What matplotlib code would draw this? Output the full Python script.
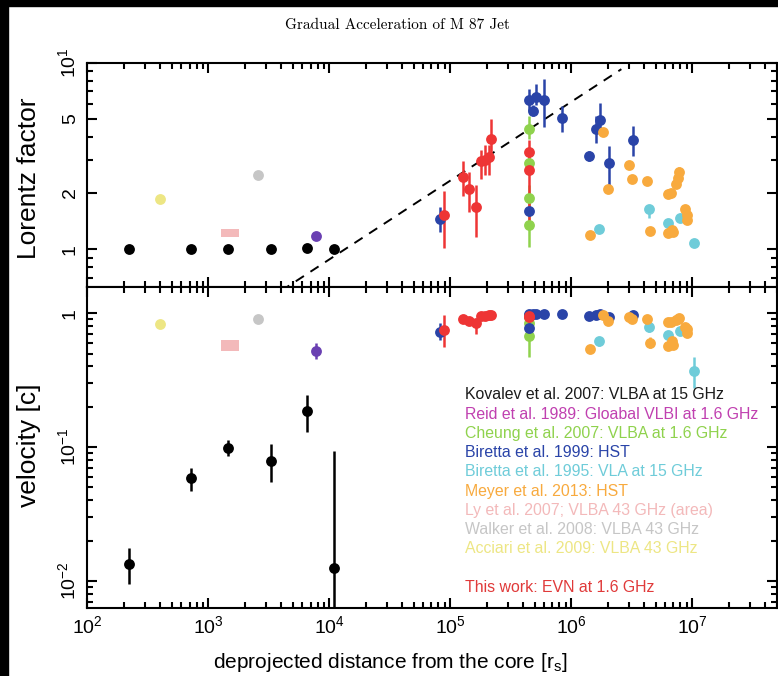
import numpy as np
import matplotlib
matplotlib.use("Agg")
import matplotlib.pyplot as plt
from matplotlib.ticker import FixedLocator, FixedFormatter, LogLocator, NullFormatter
from matplotlib.patches import Rectangle

plt.rcParams['font.family'] = ['Liberation Sans', 'DejaVu Sans']
plt.rcParams['mathtext.fontset'] = 'custom'
plt.rcParams['mathtext.rm'] = 'Liberation Sans'
plt.rcParams['mathtext.it'] = 'Liberation Sans:italic'

# ---- data ----
# Kovalev et al. 2007 (black)
kov_z = [222, 724, 1455, 3270, 6610, 10860]
kov_gamma = [1.0, 1.0, 1.0, 1.0, 1.02, 1.0]
kov_beta = [0.0135, 0.0583, 0.0993, 0.0794, 0.187, 0.0125]
kov_beta_lo = [0.0095, 0.0472, 0.0851, 0.0544, 0.129, 0.001]
kov_beta_hi = [0.0177, 0.0704, 0.113, 0.105, 0.243, 0.0938]

# Reid et al. 1989 (purple)
reid_z = [7710]
reid_gamma = [1.18]
reid_beta = [0.526]
reid_beta_lo = [0.454]
reid_beta_hi = [0.60]

# Walker et al. 2008 (grey)
walker_z = [2590]
walker_gamma = [2.50]
walker_beta = [0.907]

# Acciari et al. 2009 (yellow)
acc_z = [396]
acc_gamma = [1.85]
acc_beta = [0.836]

# Ly et al. 2007 (area)
ly_z = [1280, 1800]
ly_gamma = [1.155, 1.285]
ly_beta = [0.523, 0.632]

# Cheung et al. 2007 (green)
ch_z = [447000, 447000, 447000, 447000]
ch_gamma = [4.42, 2.89, 1.88, 1.35]
ch_gamma_lo = [3.9, 2.5, 1.6, 1.03]
ch_gamma_hi = [5.15, 3.3, 2.2, 1.9]
ch_beta = [0.974, 0.938, 0.847, 0.672]
ch_beta_lo = [0.97, 0.92, 0.80, 0.47]
ch_beta_hi = [0.98, 0.95, 0.88, 0.80]

# Biretta et al. 1999 HST (blue)
b99_z = [81700, 447000, 452000, 488000, 510000, 598000, 832000, 1.415e6, 1.6e6, 1.74e6, 2.06e6, 3.27e6]
b99_gamma = [1.455, 1.61, 6.28, 5.52, 6.54, 6.33, 5.05, 3.14, 4.42, 4.94, 2.89, 3.86]
b99_gamma_lo = [1.24, 1.55, 5.48, 5.2, 5.95, 4.52, 4.23, 2.95, 3.71, 4.28, 2.08, 3.14]
b99_gamma_hi = [1.69, 1.68, 7.17, 5.9, 7.69, 8.18, 5.83, 3.35, 5.15, 6.08, 3.55, 4.55]
b99_beta = [0.73, 0.77, 0.987, 0.983, 0.988, 0.987, 0.98, 0.948, 0.974, 0.979, 0.938, 0.966]
b99_beta_lo = [0.63, 0.72, 0.98, 0.98, 0.985, 0.97, 0.97, 0.94, 0.96, 0.97, 0.87, 0.95]
b99_beta_hi = [0.84, 0.82, 0.99, 0.985, 0.99, 0.99, 0.985, 0.955, 0.98, 0.985, 0.96, 0.975]

# Biretta et al. 1995 VLA (cyan)
b95_z = [1.70e6, 4.36e6, 6.37e6, 7.96e6, 1.04e7]
b95_gamma = [1.285, 1.64, 1.38, 1.47, 1.08]
b95_gamma_lo = [1.24, 1.47, 1.38, 1.47, 1.08]
b95_gamma_hi = [1.33, 1.73, 1.38, 1.47, 1.08]
b95_beta = [0.62, 0.786, 0.69, 0.74, 0.373]
b95_beta_lo = [0.57, 0.72, 0.69, 0.74, 0.276]
b95_beta_hi = [0.67, 0.84, 0.69, 0.74, 0.47]

# Meyer et al. 2013 HST (orange)
mey_z = [1.42e6, 1.84e6, 2.03e6, 3.01e6, 3.16e6, 4.21e6, 4.49e6, 6.28e6, 6.65e6,
         7.37e6, 7.7e6, 7.86e6, 6.37e6, 6.79e6, 7.0e6, 8.75e6, 9.14e6, 9.14e6]
mey_gamma = [1.19, 4.26, 2.10, 2.82, 2.39, 2.33, 1.25, 1.97, 2.01,
             2.23, 2.41, 2.58, 1.22, 1.27, 1.23, 1.64, 1.53, 1.43]
mey_gamma_lo = [1.19, 4.26, 2.10, 2.68, 2.39, 2.28, 1.20, 1.97, 2.01,
                2.23, 2.41, 2.45, 1.22, 1.27, 1.23, 1.64, 1.53, 1.43]
mey_gamma_hi = [1.19, 4.26, 2.10, 2.97, 2.39, 2.38, 1.32, 1.97, 2.01,
                2.23, 2.41, 2.75, 1.22, 1.27, 1.23, 1.64, 1.53, 1.43]
mey_beta = [0.54, 0.972, 0.879, 0.935, 0.908, 0.903, 0.60, 0.862, 0.867,
            0.894, 0.91, 0.922, 0.573, 0.617, 0.582, 0.793, 0.757, 0.715]
mey_beta_lo = [0.54, 0.972, 0.879, 0.93, 0.908, 0.90, 0.55, 0.862, 0.867,
               0.894, 0.91, 0.915, 0.573, 0.617, 0.582, 0.793, 0.757, 0.715]
mey_beta_hi = [0.54, 0.972, 0.879, 0.94, 0.908, 0.906, 0.66, 0.862, 0.867,
               0.894, 0.91, 0.93, 0.573, 0.617, 0.582, 0.793, 0.757, 0.715]

# This work: EVN at 1.6 GHz (red)
evn_z = [88100, 127000, 144000, 162000, 179500, 194700, 207300, 218300, 452000, 447000]
evn_gamma = [1.53, 2.45, 2.10, 1.69, 2.95, 3.02, 3.12, 3.89, 3.30, 2.64]
evn_gamma_lo = [1.01, 1.92, 1.58, 1.16, 2.38, 2.50, 2.51, 3.08, 2.9, 1.32]
evn_gamma_hi = [2.04, 2.95, 2.58, 2.21, 3.41, 3.60, 3.63, 4.99, 3.86, 3.0]
evn_beta = [0.75, 0.90, 0.88, 0.84, 0.95, 0.96, 0.965, 0.97, 0.955, 0.93]
evn_beta_lo = [0.56, 0.88, 0.85, 0.70, 0.93, 0.94, 0.94, 0.95, 0.94, 0.90]
evn_beta_hi = [0.97, 0.92, 0.91, 0.89, 0.96, 0.97, 0.97, 0.98, 0.965, 0.95]

# dashed acceleration line (end points)
fit_z = [4.0e3, 2.6e6]
fit_gamma = [0.598, 9.21]

legend_lines = [
    ("Kovalev et al. 2007: VLBA at 15 GHz", "#1a1a1a"),
    ("Reid et al. 1989: Gloabal VLBI at 1.6 GHz", "#c040b0"),
    ("Cheung et al. 2007: VLBA at 1.6 GHz", "#8fd24d"),
    ("Biretta et al. 1999: HST", "#2a44a8"),
    ("Biretta et al. 1995: VLA at 15 GHz", "#6fccd9"),
    ("Meyer et al. 2013: HST", "#f8aa3e"),
    ("Ly et al. 2007; VLBA 43 GHz (area)", "#f3b9ba"),
    ("Walker et al. 2008: VLBA 43 GHz", "#c6c6c6"),
    ("Acciari et al. 2009: VLBA 43 GHz", "#ede684"),
    ("", None),
    ("This work: EVN at 1.6 GHz", "#e03a3a"),
]

C_BLACK = "#000000"
C_PURPLE = "#6a40b2"
C_GREY = "#c6c6c6"
C_YELLOW = "#ede684"
C_PINK = "#f3b9ba"
C_GREEN = "#8fd24d"
C_BLUE = "#2a44a8"
C_CYAN = "#6fccd9"
C_ORANGE = "#f8aa3e"
C_RED = "#ee3535"

W, H = 778, 676
fig = plt.figure(figsize=(W / 100, H / 100), dpi=100)
fig.patch.set_facecolor("white")

x0, x1 = 87.3 / W, 776.7 / W
ax1 = fig.add_axes([x0, 1 - 287 / H, x1 - x0, (287 - 62.5) / H])
ax2 = fig.add_axes([x0, 1 - 608.3 / H, x1 - x0, (608.3 - 287) / H])

ms = 7.8
elw = 1.8


def err(v, lo, hi):
    v, lo, hi = np.array(v), np.array(lo), np.array(hi)
    return [v - lo, hi - v]


def pts(ax, z, y, color, yerr=None):
    ax.errorbar(z, y, yerr=yerr, fmt='o', color=color, ms=ms, mew=0,
                elinewidth=elw, capsize=0, zorder=3)


# top panel: Lorentz factor
ax1.plot(fit_z, fit_gamma, color='black', lw=1.4, dashes=[5, 4], zorder=2)
pts(ax1, kov_z, kov_gamma, C_BLACK)
pts(ax1, acc_z, acc_gamma, C_YELLOW)
pts(ax1, walker_z, walker_gamma, C_GREY)
ax1.fill_between(ly_z, ly_gamma[0], ly_gamma[1], color=C_PINK, lw=0)
pts(ax1, reid_z, reid_gamma, C_PURPLE)
pts(ax1, ch_z, ch_gamma, C_GREEN, err(ch_gamma, ch_gamma_lo, ch_gamma_hi))
pts(ax1, b99_z, b99_gamma, C_BLUE, err(b99_gamma, b99_gamma_lo, b99_gamma_hi))
pts(ax1, b95_z, b95_gamma, C_CYAN, err(b95_gamma, b95_gamma_lo, b95_gamma_hi))
pts(ax1, mey_z, mey_gamma, C_ORANGE, err(mey_gamma, mey_gamma_lo, mey_gamma_hi))
pts(ax1, evn_z, evn_gamma, C_RED, err(evn_gamma, evn_gamma_lo, evn_gamma_hi))

# bottom panel: velocity
pts(ax2, kov_z, kov_beta, C_BLACK, err(kov_beta, kov_beta_lo, kov_beta_hi))
pts(ax2, acc_z, acc_beta, C_YELLOW)
pts(ax2, walker_z, walker_beta, C_GREY)
ax2.fill_between(ly_z, ly_beta[0], ly_beta[1], color=C_PINK, lw=0)
pts(ax2, reid_z, reid_beta, C_PURPLE, err(reid_beta, reid_beta_lo, reid_beta_hi))
pts(ax2, ch_z, ch_beta, C_GREEN, err(ch_beta, ch_beta_lo, ch_beta_hi))
pts(ax2, b99_z, b99_beta, C_BLUE, err(b99_beta, b99_beta_lo, b99_beta_hi))
pts(ax2, b95_z, b95_beta, C_CYAN, err(b95_beta, b95_beta_lo, b95_beta_hi))
pts(ax2, mey_z, mey_beta, C_ORANGE, err(mey_beta, mey_beta_lo, mey_beta_hi))
pts(ax2, evn_z, evn_beta, C_RED, err(evn_beta, evn_beta_lo, evn_beta_hi))

for ax in (ax1, ax2):
    ax.set_xscale('log')
    ax.set_yscale('log')
    ax.set_xlim(1e2, 5e7)
    ax.xaxis.set_major_locator(LogLocator(base=10, numticks=20))
    ax.xaxis.set_minor_locator(LogLocator(base=10, subs=np.arange(2, 10), numticks=20))
    ax.xaxis.set_minor_formatter(NullFormatter())
    ax.tick_params(which='both', direction='in', top=True, right=True, width=1.5)
    ax.tick_params(which='major', length=7.5)
    ax.tick_params(which='minor', length=4.5)
    for s in ax.spines.values():
        s.set_linewidth(1.5)

ax1.set_ylim(0.627, 10)
ax1.yaxis.set_major_locator(FixedLocator([1, 2, 5, 10]))
ax1.yaxis.set_major_formatter(FixedFormatter(['1', '2', '5', r'$10^{1}$']))
ax1.yaxis.set_minor_locator(FixedLocator([0.7, 0.8, 0.9, 3, 4, 6, 7, 8, 9]))
ax1.yaxis.set_minor_formatter(NullFormatter())
ax1.tick_params(axis='x', labelbottom=False)

ax2.set_ylim(0.00625, 1.57)
ax2.yaxis.set_major_locator(FixedLocator([0.01, 0.1, 1]))
ax2.yaxis.set_major_formatter(FixedFormatter([r'$10^{-2}$', r'$10^{-1}$', '1']))
minor_b = [m * d for d in (0.001, 0.01, 0.1) for m in range(2, 10)]
ax2.yaxis.set_minor_locator(FixedLocator(minor_b))
ax2.yaxis.set_minor_formatter(NullFormatter())
ax2.tick_params(axis='x', which='major', labelsize=14, pad=5)

for ax in (ax1, ax2):
    ax.tick_params(axis='y', which='major', labelsize=14, pad=6)
    for lab in ax.get_yticklabels():
        lab.set_rotation(90)
        lab.set_va('center')
        lab.set_ha('right')
        lab.set_rotation_mode('default')

# legend as coloured text
for i, (txt, col) in enumerate(legend_lines):
    if not txt:
        continue
    ax2.text(0.548, 0.664 - i * 0.0598, txt, color=col, fontsize=11.4,
             transform=ax2.transAxes, ha='left', va='center')

fig.text(29 / W, 1 - 178 / H, "Lorentz factor", rotation=90, ha='center', va='center', fontsize=19)
fig.text(29 / W, 1 - 445 / H, "velocity [c]", rotation=90, ha='center', va='center', fontsize=19)
fig.text(390 / W, 1 - 662 / H, r"deprojected distance from the core [r$_\mathrm{s}$]",
         ha='center', va='center', fontsize=15)
fig.text(397 / W, 1 - 25 / H, "Gradual Acceleration of M 87 Jet", ha='center', va='center',
         fontsize=11, fontfamily='cmr10')

# dark frame strips on the left and top edges
fig.patches.append(Rectangle((0, 0), 8 / W, 1, transform=fig.transFigure, color='black', zorder=10))
fig.patches.append(Rectangle((0, 1 - 6 / H), 1, 6 / H, transform=fig.transFigure, color='black', zorder=10))

fig.savefig("out.png", dpi=100)
